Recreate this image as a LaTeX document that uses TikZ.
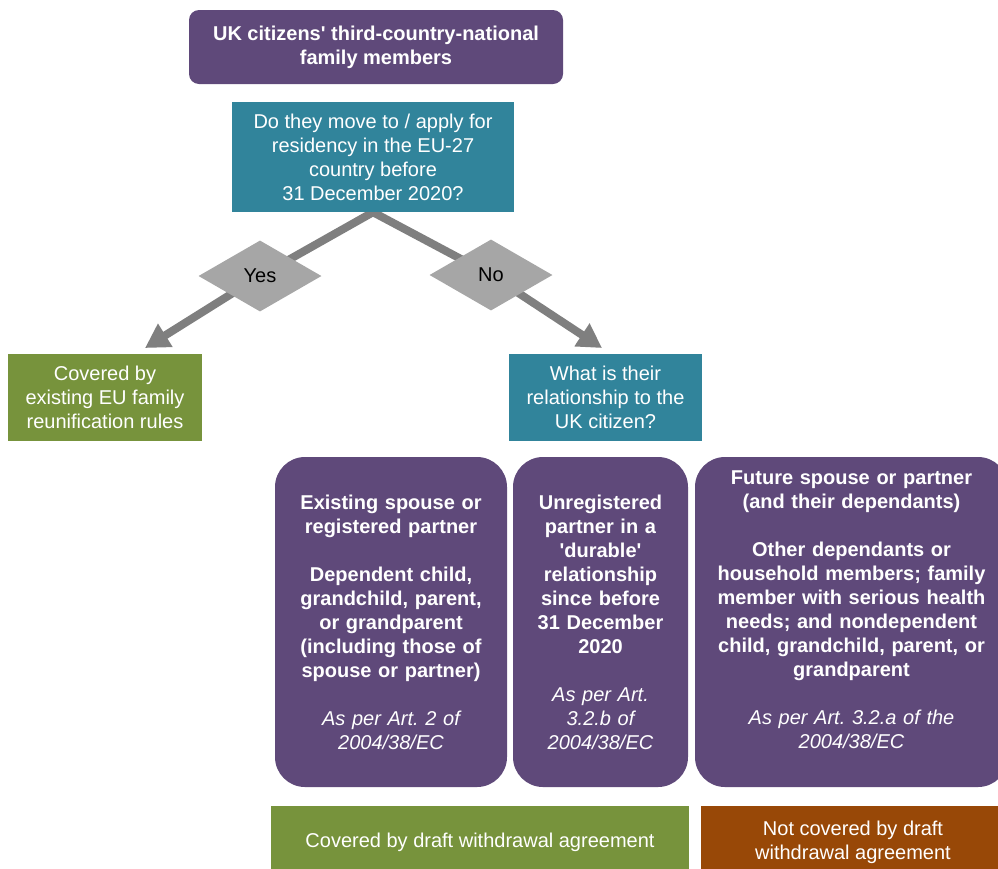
\documentclass[tikz,border=0pt]{standalone}
\usepackage{fontspec}
\setmainfont{Liberation Sans}
\frenchspacing
\usetikzlibrary{shapes.geometric, arrows.meta, positioning, backgrounds}
\definecolor{boxpurple}{HTML}{5F497A}
\definecolor{boxteal}{HTML}{31849B}
\definecolor{boxgreen}{HTML}{77933C}
\definecolor{boxbrown}{HTML}{984807}
\definecolor{linegray}{HTML}{7F7F7F}
\definecolor{answergray}{HTML}{A6A6A6}
\tikzset{
x=1pt, y=-1pt, % one unit per pixel, y runs down the page
every node/.style={inner sep=0pt, align=center, font=\fontsize{20}{24}\selectfont}, % same text size everywhere
plainbox/.style={rectangle, text=white, minimum height=87pt}, % square coloured boxes
roundbox/.style={rectangle, rounded corners=10pt, fill=boxpurple, text=white, font=\fontsize{20}{24}\selectfont\bfseries},
groupbox/.style={rectangle, rounded corners=30pt, fill=boxpurple, text=white, minimum height=330pt, font=\fontsize{20}{24}\selectfont\bfseries}, % the three tall purple boxes
answer/.style={diamond, fill=answergray, minimum width=123pt, minimum height=71pt},
flowline/.style={draw=linegray, line width=8pt, -{Triangle[length=24pt, width=26pt]}}, % thick grey arrows
}

\begin{document}
\begin{tikzpicture}
  \useasboundingbox (0,0) rectangle (998,868);
  \clip (0,0) rectangle (998,868);
  \node[roundbox, minimum width=374pt, minimum height=74pt] (title) at (376,47) {UK citizens\textquotesingle{} third-country-national\\ family members};
  \node[plainbox, fill=boxteal, minimum width=282pt, minimum height=110pt] (question) at (373,157) {Do they move to / apply for\\ residency in the EU-27\\ country before\\ 31 December 2020?};
  \node[answer] (yes) at (260,276) {Yes};
  \node[answer] (no) at (491,275) {No};
  \node[plainbox, fill=boxgreen, minimum width=194pt] (eurules) at (105,397) {Covered by\\ existing EU family\\ reunification rules};
  \node[plainbox, fill=boxteal, minimum width=193pt] (relation) at (605.5,397) {What is their\\ relationship to the\\ UK citizen?};
  \coordinate (yestip) at (145,348);
  \coordinate (notip) at (602,348);
  \node[groupbox, minimum width=232pt, text width=224pt] (spouse) at (391,622) {Existing spouse or\\ registered partner\\[24pt] Dependent child,\\ grandchild, parent,\\ or grandparent\\ (including those of\\ spouse or partner)\\[24pt] \mdseries\itshape As per Art. 2 of\\ 2004/38/EC};
  \node[groupbox, minimum width=175pt, text width=167pt] (durable) at (600.5,622) {Unregistered\\ partner in a\\ \textquotesingle durable\textquotesingle\\ relationship\\ since before\\ 31 December\\ 2020\\[24pt] \mdseries\itshape As per Art.\\ 3.2.b of\\ 2004/38/EC};
  \node[groupbox, minimum width=313pt, text width=300pt] (future) at (851.5,622) {Future spouse or partner\\ (and their dependants)\\[24pt] Other dependants or\\ household members; family\\ member with serious health\\ needs; and nondependent\\ child, grandchild, parent, or\\ grandparent\\[24pt] \mdseries\itshape As per Art. 3.2.a of the\\ 2004/38/EC\\ \mbox{}};
  \node[plainbox, fill=boxgreen, minimum width=418pt, minimum height=72pt] (covered) at (480,842) {Covered by draft withdrawal agreement};
  \node[plainbox, fill=boxbrown, minimum width=304pt, minimum height=72pt] (notcovered) at (853,842) {Not covered by draft\\ withdrawal agreement};
  \begin{scope}[on background layer]
    \draw[flowline] (question.south) -- (yes.center) -- (yestip);
    \draw[flowline] (question.south) -- (no.center) -- (notip);
  \end{scope}
\end{tikzpicture}
\end{document}
